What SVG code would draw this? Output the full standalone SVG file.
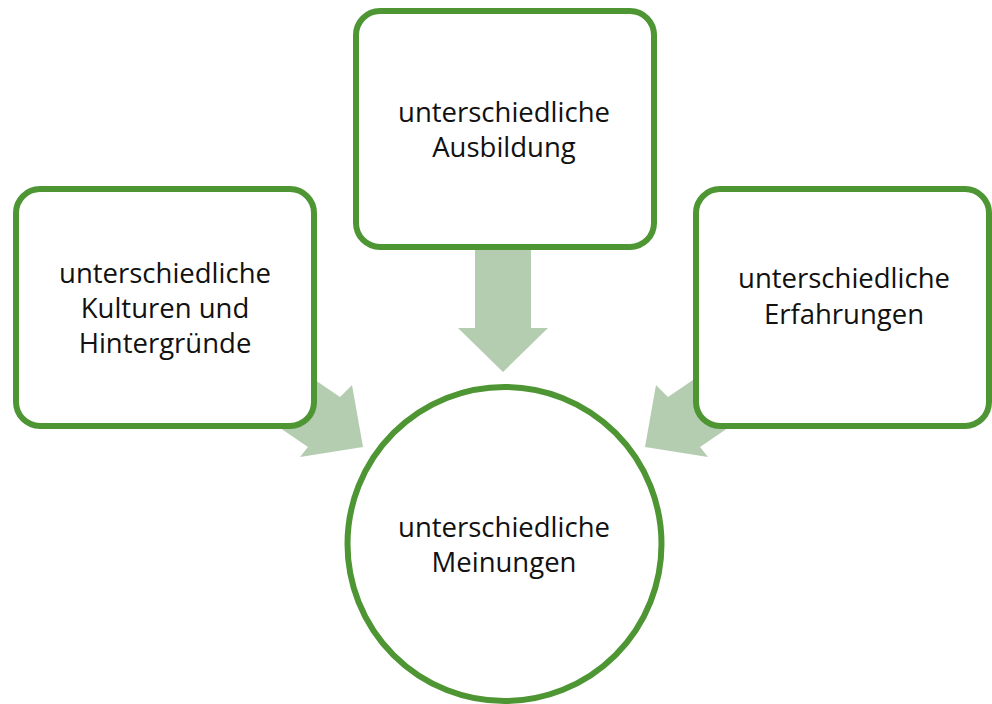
<svg xmlns="http://www.w3.org/2000/svg" width="992" height="704" viewBox="0 0 992 704">
<style>
.node{fill:#ffffff;stroke:#4e9634;stroke-width:6}
.arrow{fill:#b4cdb0;stroke:none}
.label{font-family:"Open Sans","Noto Sans","Liberation Sans",sans-serif;font-size:27.5px;fill:#111111;text-anchor:middle}
</style>
<rect width="992" height="704" fill="#ffffff"/>
<g id="connectors">
<polygon class="arrow" points="475,245 531,245 531,328 548,328 503,372 458,328 475,328"/>
<polygon class="arrow" points="296,367 340,397 352,385 363,447 300,457 308,447 264,417"/>
<polygon class="arrow" points="712,367 668,397 656,385 645,447 708,457 700,447 744,417"/>
</g>
<g id="node-ausbildung">
<rect class="node" x="356" y="11" width="298" height="236" rx="24"/>
<text class="label" x="504" y="122">unterschiedliche</text>
<text class="label" x="504" y="157">Ausbildung</text>
</g>
<g id="node-kulturen">
<rect class="node" x="16" y="189" width="298" height="237" rx="24"/>
<text class="label" x="165" y="283">unterschiedliche</text>
<text class="label" x="165" y="318">Kulturen und</text>
<text class="label" x="165" y="353">Hintergründe</text>
</g>
<g id="node-erfahrungen">
<rect class="node" x="696" y="189" width="293" height="237" rx="24"/>
<text class="label" x="844" y="288">unterschiedliche</text>
<text class="label" x="844" y="324">Erfahrungen</text>
</g>
<g id="node-meinungen">
<circle class="node" cx="504.5" cy="544" r="157"/>
<text class="label" x="504" y="537">unterschiedliche</text>
<text class="label" x="504" y="572">Meinungen</text>
</g>
</svg>
